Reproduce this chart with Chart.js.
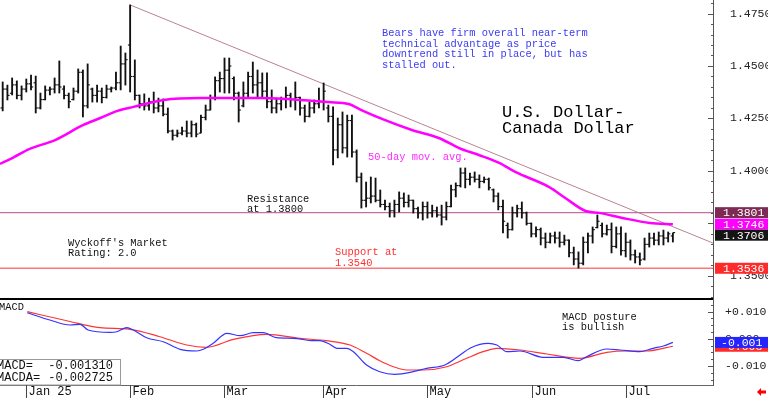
<!DOCTYPE html>
<html lang="en">
<head>
<meta charset="UTF-8">
<title>U.S. Dollar - Canada Dollar</title>
<script src="https://cdn.jsdelivr.net/npm/chart.js"></script>
<style>
  body { margin: 0; background: #fff; }
  #wrap { position: relative; width: 768px; height: 398px; overflow: hidden; }
  canvas { position: absolute; left: 0; }
  #price { top: 0; }
  #macd { top: 298px; }
</style>
</head>
<body>
<div id="wrap">
  <canvas id="price" width="768" height="298"></canvas>
  <canvas id="macd" width="768" height="100"></canvas>
</div>
<script>
const MONO = '"Liberation Mono", "DejaVu Sans Mono", monospace';

// daily bars, index 0 = late Dec 2024, last = mid Jul 2025
const opens = [
  1.4300,1.4390,1.4370,1.4410,1.4360,1.4390,1.4415,1.4420,1.4300,1.4340,
  1.4385,1.4390,1.4410,1.4390,1.4360,1.4340,1.4380,1.4470,1.4310,1.4390,
  1.4360,1.4380,1.4350,1.4390,1.4395,1.4420,1.4510,1.4600,1.4450,1.4360,
  1.4320,1.4310,1.4330,1.4300,1.4310,1.4270,1.4190,1.4170,1.4180,1.4190,
  1.4180,1.4220,1.4180,1.4255,1.4290,1.4350,1.4430,1.4440,1.4480,1.4440,
  1.4370,1.4310,1.4370,1.4450,1.4410,1.4420,1.4380,1.4330,1.4300,1.4320,
  1.4340,1.4360,1.4340,1.4350,1.4300,1.4260,1.4300,1.4320,1.4330,1.4300,
  1.4260,1.4100,1.4220,1.4110,1.4240,1.4090,1.3970,1.3860,1.3870,1.3880,
  1.3860,1.3840,1.3830,1.3810,1.3840,1.3870,1.3850,1.3860,1.3820,1.3800,
  1.3830,1.3800,1.3810,1.3790,1.3780,1.3830,1.3910,1.3930,1.3990,1.3960,
  1.3970,1.3960,1.3950,1.3960,1.3910,1.3880,1.3830,1.3740,1.3720,1.3800,
  1.3820,1.3800,1.3750,1.3700,1.3720,1.3680,1.3660,1.3690,1.3680,1.3660,
  1.3670,1.3610,1.3580,1.3560,1.3660,1.3690,1.3730,1.3740,1.3700,1.3720,
  1.3640,1.3700,1.3620,1.3660,1.3600,1.3590,1.3580,1.3650,1.3680,1.3670,
  1.3690,1.3680,1.3690
];
const highs = [
  1.4424,1.4409,1.4443,1.4429,1.4405,1.4438,1.4457,1.4452,1.4371,1.4405,
  1.4400,1.4443,1.4524,1.4405,1.4371,1.4395,1.4486,1.4481,1.4510,1.4395,
  1.4409,1.4395,1.4409,1.4400,1.4471,1.4595,1.4562,1.4791,1.4529,1.4362,
  1.4367,1.4347,1.4376,1.4347,1.4343,1.4300,1.4195,1.4195,1.4209,1.4238,
  1.4238,1.4228,1.4266,1.4314,1.4362,1.4448,1.4471,1.4538,1.4538,1.4448,
  1.4376,1.4424,1.4471,1.4519,1.4481,1.4467,1.4467,1.4386,1.4347,1.4352,
  1.4400,1.4371,1.4424,1.4352,1.4314,1.4328,1.4338,1.4395,1.4419,1.4314,
  1.4305,1.4252,1.4281,1.4266,1.4266,1.4100,1.3990,1.3947,1.3971,1.3966,
  1.3909,1.3861,1.3847,1.3861,1.3900,1.3895,1.3885,1.3861,1.3828,1.3852,
  1.3852,1.3837,1.3828,1.3837,1.3852,1.3933,1.3943,1.4014,1.4014,1.3990,
  1.3995,1.3981,1.3971,1.3966,1.3914,1.3895,1.3861,1.3752,1.3828,1.3837,
  1.3852,1.3804,1.3752,1.3733,1.3728,1.3704,1.3704,1.3709,1.3709,1.3694,
  1.3671,1.3637,1.3614,1.3685,1.3704,1.3733,1.3790,1.3752,1.3742,1.3752,
  1.3733,1.3733,1.3704,1.3671,1.3623,1.3609,1.3680,1.3704,1.3704,1.3709,
  1.3718,1.3709,1.3704
];
const lows = [
  1.4286,1.4338,1.4362,1.4343,1.4338,1.4376,1.4386,1.4276,1.4295,1.4338,
  1.4362,1.4371,1.4371,1.4343,1.4300,1.4338,1.4371,1.4257,1.4300,1.4328,
  1.4328,1.4324,1.4347,1.4376,1.4386,1.4386,1.4409,1.4376,1.4338,1.4300,
  1.4290,1.4290,1.4276,1.4281,1.4262,1.4181,1.4147,1.4162,1.4171,1.4162,
  1.4162,1.4162,1.4181,1.4243,1.4290,1.4338,1.4376,1.4371,1.4371,1.4338,
  1.4233,1.4305,1.4347,1.4371,1.4352,1.4352,1.4300,1.4276,1.4276,1.4290,
  1.4300,1.4305,1.4290,1.4266,1.4233,1.4257,1.4276,1.4300,1.4290,1.4233,
  1.4028,1.4062,1.4085,1.4066,1.4066,1.3947,1.3823,1.3828,1.3847,1.3852,
  1.3828,1.3814,1.3780,1.3780,1.3804,1.3828,1.3828,1.3799,1.3775,1.3766,
  1.3775,1.3780,1.3780,1.3742,1.3766,1.3828,1.3876,1.3923,1.3919,1.3933,
  1.3947,1.3919,1.3943,1.3909,1.3852,1.3814,1.3704,1.3680,1.3718,1.3780,
  1.3775,1.3742,1.3685,1.3685,1.3647,1.3633,1.3656,1.3656,1.3637,1.3647,
  1.3590,1.3552,1.3537,1.3552,1.3609,1.3656,1.3728,1.3685,1.3694,1.3609,
  1.3633,1.3599,1.3590,1.3575,1.3561,1.3552,1.3575,1.3637,1.3647,1.3647,
  1.3647,1.3661,1.3661
];
const closes = [
  1.4390,1.4360,1.4410,1.4360,1.4390,1.4415,1.4400,1.4300,1.4340,1.4385,
  1.4390,1.4410,1.4400,1.4360,1.4330,1.4380,1.4470,1.4310,1.4410,1.4360,
  1.4380,1.4350,1.4390,1.4395,1.4420,1.4510,1.4530,1.4450,1.4360,1.4320,
  1.4310,1.4330,1.4300,1.4310,1.4270,1.4190,1.4170,1.4180,1.4190,1.4180,
  1.4220,1.4175,1.4255,1.4290,1.4350,1.4430,1.4440,1.4480,1.4500,1.4370,
  1.4290,1.4370,1.4450,1.4410,1.4420,1.4380,1.4330,1.4300,1.4320,1.4340,
  1.4360,1.4340,1.4350,1.4300,1.4260,1.4300,1.4320,1.4330,1.4380,1.4260,
  1.4100,1.4220,1.4110,1.4240,1.4090,1.3970,1.3860,1.3870,1.3880,1.3860,
  1.3840,1.3830,1.3810,1.3840,1.3870,1.3850,1.3860,1.3820,1.3800,1.3830,
  1.3800,1.3810,1.3790,1.3780,1.3830,1.3910,1.3930,1.3990,1.3960,1.3970,
  1.3960,1.3950,1.3960,1.3920,1.3880,1.3830,1.3760,1.3720,1.3800,1.3820,
  1.3800,1.3750,1.3700,1.3720,1.3680,1.3660,1.3690,1.3680,1.3660,1.3670,
  1.3610,1.3580,1.3560,1.3660,1.3690,1.3720,1.3760,1.3700,1.3720,1.3640,
  1.3700,1.3620,1.3660,1.3600,1.3590,1.3575,1.3650,1.3680,1.3670,1.3690,
  1.3680,1.3700,1.3706
];

// 50-day moving average
const maDay = [-0.57, 2.4, 5.6, 11.1, 17.1, 20.7, 24.3, 27.7, 34.1, 42, 54.7, 66, 69, 73.3, 76,
  80.9, 86.7, 92.4, 96.7, 100.9, 105.2, 108.6, 115.8, 119.2, 123.5, 126.4, 131.3, 137.1, 142];
const maValue = [1.4033, 1.4066, 1.4104, 1.4147, 1.4219, 1.4252, 1.4286, 1.4305, 1.4338, 1.4347,
  1.4347, 1.4333, 1.4328, 1.4319, 1.4290, 1.4243, 1.4195, 1.4157, 1.4109, 1.4076, 1.4038, 1.3995,
  1.3923, 1.3871, 1.3809, 1.3800, 1.3776, 1.3752, 1.3746];

// MACD (blue) and its average (red)
const macdDay = [5.2, 10, 14.3, 16.4, 18.1, 22.7, 24.2, 26.3, 27.7, 30.5, 34, 37.6, 41.1, 42.5,
  44.6, 47.5, 50.3, 53.1, 55.2, 58, 61.6, 65.8, 67.2, 69.3, 70.8, 72.9, 74.3, 77.1, 79.9, 83.1,
  87, 89.8, 93.7, 96.9, 99, 101.1, 102.9, 104.7, 106.8, 109.6, 114.5, 118.8, 121.9, 123.7, 128,
  130.8, 135, 137.8, 140, 142];
const macdValue = [0.00963, 0.00694, 0.00510, 0.00536, 0.00326, 0.00241, 0.00263, 0.00411,
  0.00326, 0.00042, -0.00105, -0.00385, -0.00448, -0.00385, -0.00164, 0.00204, 0.00116, 0.00227,
  0.00227, 0.00042, 0.00020, -0.00068, -0.00068, -0.00201, -0.00348, -0.00348, -0.00473,
  -0.00963, -0.01210, -0.01306, -0.01210, -0.01085, -0.00963, -0.00595, -0.00348, -0.00201,
  -0.00164, -0.00227, -0.00473, -0.00448, -0.00680, -0.00680, -0.00805, -0.00657, -0.00374,
  -0.00411, -0.00473, -0.00348, -0.00263, -0.00131];
const signalDay = [5.2, 13.6, 20.6, 27, 33.3, 39, 43.2, 48.9, 55.9, 63, 68.6, 73.6, 77.1, 79.9,
  82.8, 85.6, 89.1, 94.1, 98.3, 101.8, 104.7, 109.6, 115.3, 122.3, 128, 132.2, 136.4, 142];
const signalValue = [0.01000, 0.00668, 0.00411, 0.00352, 0.00079, -0.00227, -0.00311, -0.00017,
  0.00168, 0.00020, -0.00068, -0.00227, -0.00532, -0.00805, -0.01026, -0.01147, -0.01147,
  -0.01026, -0.00716, -0.00473, -0.00348, -0.00411, -0.00558, -0.00716, -0.00495, -0.00448,
  -0.00448, -0.002725];

const monthLabels = ['Jan 25', 'Feb', 'Mar', 'Apr', 'May', 'Jun', 'Jul'];
const monthDay = [4.9, 27, 46.9, 67.9, 89.9, 112.1, 132.1];

const resistance = 1.3801;
const support = 1.3536;
const trendDay = [27, 150.5];
const trendValue = [1.4791, 1.3656];
const lastMA = 1.3746, lastClose = 1.3706;
const lastMacd = -0.001310, lastSignal = -0.002725;

const xMin = -0.57, xMax = 150.5;

const priceTicks = [];
for (let k = 0; k <= 28; k++) priceTicks.push(Math.round((1.34 + k * 0.005) * 10000) / 10000);
const macdTicks = [];
for (let k = -6; k <= 6; k++) macdTicks.push(k * 0.0025);

const pts = (xs, ys) => xs.map((x, i) => ({ x: x, y: ys[i] }));
const bars = highs.map((h, i) => ({ x: i, y: [lows[i], h] }));

// right axis: fixed width, no extra vertical padding for the labels
function fitAxis(s) {
    s.width = 55;
    s.paddingTop = 0;
    s.paddingBottom = 0;
}

function innerTicks(scale, isMajor) {
    const ctx = scale.ctx;
    ctx.save();
    ctx.strokeStyle = '#555';
    ctx.lineWidth = 1;
    scale.ticks.forEach(t => {
        const y = Math.round(scale.getPixelForValue(t.value)) + 0.5;
        const len = isMajor(t.value) ? 5 : 2;
        ctx.beginPath();
        ctx.moveTo(scale.left - len, y);
        ctx.lineTo(scale.left, y);
        ctx.stroke();
    });
    ctx.restore();
}

function lines(ctx, list, x, y0, step) {
    list.forEach((t, i) => ctx.fillText(t, x, y0 + i * step));
}

const priceMajor = v => Math.round(v * 10000) % 250 === 0;

const priceNotes = {
    id: 'priceNotes',
    afterDraw(chart) {
        const { ctx } = chart;
        const y = chart.scales.y;
        const right = chart.chartArea.right;
        innerTicks(y, priceMajor);
        ctx.save();
        ctx.textBaseline = 'middle';
        ctx.textAlign = 'left';

        ctx.font = '10.4px ' + MONO;
        ctx.fillStyle = '#3c3cf0';
        lines(ctx, ['Bears have firm overall near-term', 'technical advantage as price',
            'downtrend still in place, but has', 'stalled out.'], 382, 33.5, 10.6);

        ctx.fillStyle = '#ff2cff';
        ctx.fillText('50-day mov. avg.', 368, 157);

        ctx.fillStyle = '#111';
        lines(ctx, ['Resistance', 'at 1.3800'], 247, 199, 10.4);
        lines(ctx, ["Wyckoff's Market", 'Rating: 2.0'], 68, 243, 10.6);

        ctx.fillStyle = '#ff3030';
        lines(ctx, ['Support at', '1.3540'], 335, 252.5, 10.4);

        ctx.fillStyle = '#000';
        ctx.font = '17px ' + MONO;
        lines(ctx, ['U.S. Dollar-', 'Canada Dollar'], 502, 112, 16.6);

        // value boxes on the right axis
        ctx.font = '11.5px ' + MONO;
        let prevBottom = -1e9;
        [[resistance, '#7d2a55'], [lastMA, '#ff00ff'], [lastClose, '#141414'], [support, '#ff2a2a']]
            .forEach(([v, c]) => {
                const top = Math.max(y.getPixelForValue(v) - 5.5, prevBottom);
                ctx.fillStyle = c;
                ctx.fillRect(right + 2, top, chart.width - right - 2, 11);
                ctx.fillStyle = '#fff';
                ctx.fillText(v.toFixed(4), right + 10, top + 6);
                prevBottom = top + 11;
            });
        ctx.restore();
    }
};

const macdMajor = v => Math.abs(Math.round(v * 10000)) % 100 === 0;

const macdNotes = {
    id: 'macdNotes',
    afterDraw(chart) {
        const { ctx } = chart;
        const y = chart.scales.y, x = chart.scales.x;
        const area = chart.chartArea;
        innerTicks(y, macdMajor);
        ctx.save();
        // panel frame
        ctx.fillStyle = '#000';
        ctx.fillRect(0, 0, area.right, 2);
        ctx.strokeStyle = '#666';
        ctx.lineWidth = 1;
        ctx.beginPath();
        ctx.moveTo(0, area.bottom + 0.5);
        ctx.lineTo(area.right, area.bottom + 0.5);
        ctx.stroke();

        ctx.textBaseline = 'middle';
        ctx.textAlign = 'left';
        ctx.font = '10.4px ' + MONO;
        ctx.fillStyle = '#111';
        ctx.fillText('MACD', -1, 9);
        lines(ctx, ['MACD posture', 'is bullish'], 562, 19, 10.2);

        // readout box
        ctx.fillStyle = '#fff';
        ctx.fillRect(-1, 61.5, 122, area.bottom - 61.5);
        ctx.strokeStyle = '#999';
        ctx.strokeRect(-1.5, 61.5, 122, area.bottom - 61.5);
        ctx.fillStyle = '#111';
        ctx.font = '12px ' + MONO;
        ctx.fillText('MACD=', -3, 67.5);
        ctx.fillText('MACDA=', -3, 79.5);
        ctx.textAlign = 'right';
        ctx.fillText(lastMacd.toFixed(6), 113, 67.5);
        ctx.fillText(lastSignal.toFixed(6), 113, 79.5);

        // value boxes
        ctx.textAlign = 'left';
        ctx.font = '11.5px ' + MONO;
        [[lastSignal, '#ff2a2a'], [lastMacd, '#2424ff']].forEach(([v, c]) => {
            const top = y.getPixelForValue(v) - 5.5;
            ctx.fillStyle = c;
            ctx.fillRect(area.right + 2, top, chart.width - area.right - 2, 11);
            ctx.fillStyle = '#fff';
            ctx.fillText(v.toFixed(3), area.right + 8, top + 6);
        });

        // month axis
        ctx.strokeStyle = '#444';
        ctx.fillStyle = '#111';
        ctx.font = '12px ' + MONO;
        monthDay.forEach((d, i) => {
            const px = Math.round(x.getPixelForValue(d)) + 0.5;
            ctx.beginPath();
            ctx.moveTo(px, area.bottom);
            ctx.lineTo(px, chart.height);
            ctx.stroke();
            ctx.fillText(monthLabels[i], px + 2, 94);
        });

        // little red arrow bottom right
        ctx.fillStyle = '#ff0000';
        ctx.beginPath();
        ctx.moveTo(757, 94);
        ctx.lineTo(761, 90);
        ctx.lineTo(761, 92.5);
        ctx.lineTo(766, 92.5);
        ctx.lineTo(766, 95.5);
        ctx.lineTo(761, 95.5);
        ctx.lineTo(761, 98);
        ctx.closePath();
        ctx.fill();
        ctx.restore();
    }
};

const axisFont = { family: MONO, size: 11.5 };

new Chart(document.getElementById('price'), {
    type: 'bar',
    data: {
        datasets: [
            { type: 'line', data: pts(trendDay, trendValue), borderColor: '#b9838f', borderWidth: 1, pointRadius: 0, order: 9 },
            { type: 'line', data: pts([xMin, xMax], [resistance, resistance]), borderColor: '#c56f9f', borderWidth: 1.2, pointRadius: 0, order: 8 },
            { type: 'line', data: pts([xMin, xMax], [support, support]), borderColor: '#ff7878', borderWidth: 1.5, pointRadius: 0, order: 8 },
            { type: 'bar', data: bars, backgroundColor: '#111', barThickness: 1.2, order: 5 },
            { type: 'line', data: pts(opens.map((_, i) => i), opens), showLine: false, pointStyle: 'dash', pointRotation: 180, pointRadius: 2.2, pointBorderWidth: 1.1, pointBorderColor: '#111', order: 4 },
            { type: 'line', data: pts(closes.map((_, i) => i), closes), showLine: false, pointStyle: 'dash', pointRadius: 2.2, pointBorderWidth: 1.1, pointBorderColor: '#111', order: 4 },
            { type: 'line', data: pts(maDay, maValue), borderColor: '#ff00ff', borderWidth: 2.5, pointRadius: 0, cubicInterpolationMode: 'monotone', order: 1 }
        ]
    },
    options: {
        responsive: false,
        animation: false,
        events: [],
        layout: { padding: 0, autoPadding: false },
        plugins: { legend: { display: false }, tooltip: { enabled: false } },
        scales: {
            x: { type: 'linear', display: false, min: xMin, max: xMax, offset: false },
            y: {
                position: 'right', min: 1.33943, max: 1.48145,
                afterFit: fitAxis,
                afterBuildTicks(s) { s.ticks = priceTicks.map(v => ({ value: v })); },
                grid: { display: false },
                border: { display: true, color: '#555' },
                ticks: {
                    autoSkip: false, padding: 9, color: '#222', font: axisFont,
                    callback: v => priceMajor(v) ? v.toFixed(4) : ''
                }
            }
        }
    },
    plugins: [priceNotes]
});

new Chart(document.getElementById('macd'), {
    type: 'line',
    data: {
        datasets: [
            { data: pts(signalDay, signalValue), borderColor: '#ff3434', borderWidth: 1.2, pointRadius: 0, cubicInterpolationMode: 'monotone', order: 2 },
            { data: pts(macdDay, macdValue), borderColor: '#3434ff', borderWidth: 1.2, pointRadius: 0, cubicInterpolationMode: 'monotone', order: 1 }
        ]
    },
    options: {
        responsive: false,
        animation: false,
        events: [],
        layout: { padding: { bottom: 13 }, autoPadding: false },
        plugins: { legend: { display: false }, tooltip: { enabled: false } },
        scales: {
            x: { type: 'linear', display: false, min: xMin, max: xMax },
            y: {
                position: 'right', min: -0.0170, max: 0.01505,
                afterFit: fitAxis,
                afterBuildTicks(s) { s.ticks = macdTicks.map(v => ({ value: v })); },
                grid: { display: false },
                border: { display: true, color: '#555' },
                ticks: {
                    autoSkip: false, padding: 4, color: '#222', font: axisFont,
                    callback: v => {
                        if (!macdMajor(v)) return '';
                        if (Math.abs(v) < 1e-9) return '0.000';
                        return (v > 0 ? '+' : '') + v.toFixed(3);
                    }
                }
            }
        }
    },
    plugins: [macdNotes]
});
</script>
</body>
</html>
